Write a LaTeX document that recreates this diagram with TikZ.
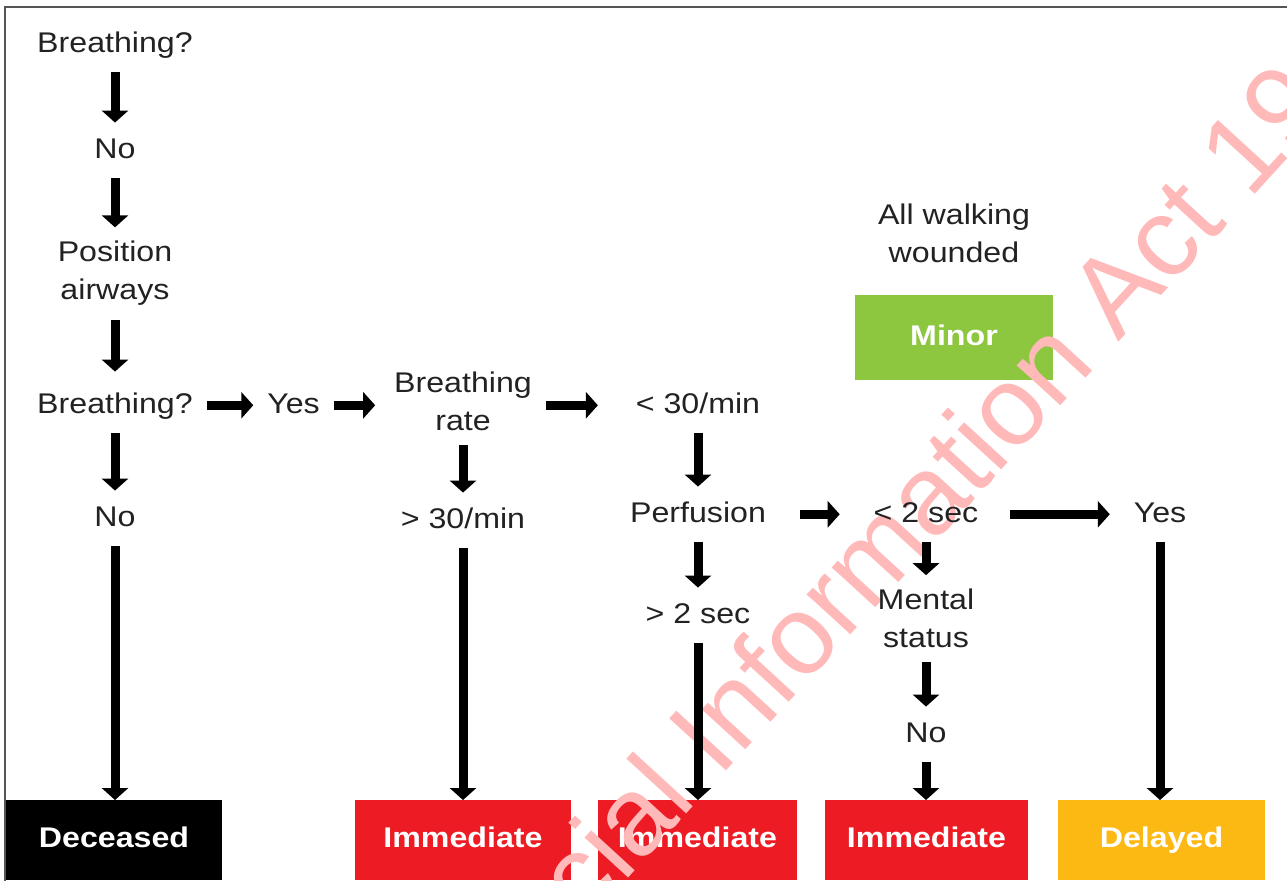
\documentclass[tikz,border=0pt]{standalone}
\usepackage{fontspec}
\setmainfont{Liberation Sans}[FakeStretch=1.13]
\newfontfamily\watermarkfont{Liberation Sans}
\usepackage{tikz}
\usetikzlibrary{positioning}
\usetikzlibrary{arrows.meta}
\definecolor{mytext}{HTML}{222222}
\definecolor{myred}{HTML}{ED1C24}
\definecolor{myamber}{HTML}{FDB913}
\definecolor{mygreen}{HTML}{8DC63F}
\definecolor{myframe}{HTML}{555555}
\definecolor{mypink}{RGB}{255,185,185}

\begin{document}
\begin{tikzpicture}
	[
		x = 0.02cm, y = -0.02cm,
		mylabel/.style = {text = mytext, inner sep = 0pt, outer sep = 0.28cm, font = \fontsize{16.2pt}{21.6pt}\selectfont, text height = 12.2pt, text depth = 3.4pt, anchor = base},
		mytwoline/.style = {text = mytext, inner sep = 0pt, outer sep = 0.28cm, font = \fontsize{16.2pt}{21.6pt}\selectfont, align = center},
		myblock/.style = {rectangle, inner sep = 0pt, outer sep = 0pt, minimum height = 1.6cm, text = white, font = \fontsize{16.2pt}{21.6pt}\selectfont\bfseries, text height = 12.2pt, text depth = 3.4pt},
		myarrow/.style = {line width = 0.18cm, -{Triangle[width = 0.52cm, length = 0.24cm]}}
	]
	%
	\useasboundingbox (0,0) rectangle (1287,880);
	\clip (0,0) rectangle (1287,880);
	\draw [myframe, line width = 0.03cm] (5,885) |- (1292,7);
	%
	% outcome boxes
	\node (deceased) [myblock, fill = black, minimum width = 4.32cm] at (114,840) {Deceased};
	\node (imm1) [myblock, fill = myred, minimum width = 4.32cm] at (463,840) {Immediate};
	\node (imm2) [myblock, fill = myred, minimum width = 3.98cm] at (697.5,840) {Immediate};
	\node (imm3) [myblock, fill = myred, minimum width = 4.06cm] at (926.5,840) {Immediate};
	\node (delayed) [myblock, fill = myamber, minimum width = 4.14cm] at (1161.5,840) {Delayed};
	\node (minor) [myblock, fill = mygreen, minimum width = 3.96cm, minimum height = 1.7cm] at (954,337.5) {Minor};
	%
	\node (watermark) [anchor = base west, rotate = 47.5, inner sep = 0pt, text = mypink, font = \watermarkfont\fontsize{63.7pt}{70pt}\selectfont] at (585,925) {cial Information Act 19};
	%
	\node (bq1) [mylabel] at (115,52) {Breathing?};
	\node (no1) [mylabel] at (115,158) {No};
	\node (pos) [mytwoline] at (115,273.6) {Position\\airways};
	\node (bq2) [mylabel] at (115,413) {Breathing?};
	\node (no2) [mylabel] at (115,526) {No};
	%
	\draw [myarrow] (bq1) -- (no1);
	\draw [myarrow] (no1) -- (pos);
	\draw [myarrow, shorten >= 0.12cm] (pos) -- (bq2);
	\draw [myarrow] (bq2) -- (no2);
	\draw [myarrow] (no2) -- (no2 |- deceased.north);
	%
	\node (yes1) [mylabel] at (293.5,413) {Yes};
	\draw [myarrow] (bq2) -- (yes1);
	%
	\node (rate) [mytwoline] at (463,401.6) {Breathing\\rate};
	\draw [myarrow, shorten >= 0.1cm] (yes1.east) -- (yes1.east -| rate.west);
	\node (gt30) [mylabel] at (463,528) {> 30/min};
	\draw [myarrow] (rate) -- (gt30);
	\draw [myarrow] (gt30) -- (imm1);
	%
	\node (lt30) [mylabel] at (698,413) {< 30/min};
	\draw [myarrow, shorten >= 0.48cm] (rate.east |- lt30) -- (lt30);
	\node (perf) [mylabel] at (698,522) {Perfusion};
	\node (gt2) [mylabel] at (698,623) {> 2 sec};
	\draw [myarrow] (lt30) -- (perf);
	\draw [myarrow] (perf) -- (gt2);
	\draw [myarrow] (gt2) -- (gt2 |- imm2.north);
	%
	\node (lt2) [mylabel] at (926,522) {< 2 sec};
	\draw [myarrow, shorten <= 0.4cm, shorten >= 0.4cm] (perf) -- (lt2);
	\node (mental) [mytwoline] at (926,618.6) {Mental\\status};
	\node (no3) [mylabel] at (926,742) {No};
	\draw [myarrow] (lt2) -- (mental);
	\draw [myarrow] (mental) -- (no3);
	\draw [myarrow] (no3) -- (no3 |- imm3.north);
	%
	\node (yes2) [mylabel] at (1160,522) {Yes};
	\draw [myarrow, shorten <= 0.35cm, shorten >= 0.2cm] (lt2) -- (yes2);
	\draw [myarrow] (yes2) -- (yes2 |- delayed.north);
	%
	\node (walking) [mytwoline] at (954,233.6) {All walking\\wounded};
	%
\end{tikzpicture}
\end{document}
